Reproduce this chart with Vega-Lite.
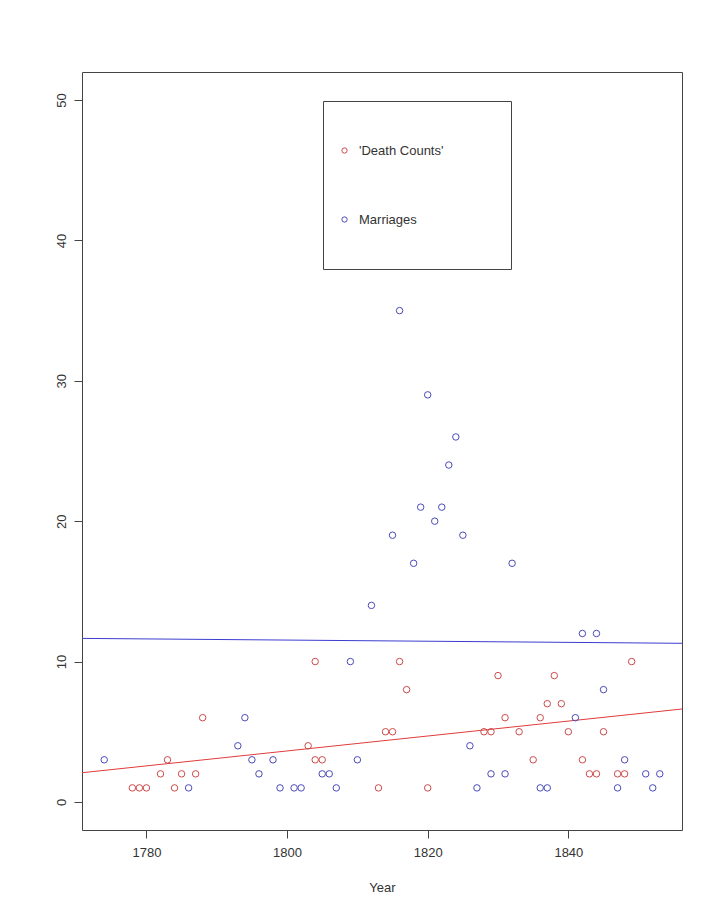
{
  "$schema": "https://vega.github.io/schema/vega-lite/v6.json",
  "autosize": {"type": "none"},
  "width": 600,
  "height": 758,
  "padding": {"left": 82, "top": 72, "right": 21, "bottom": 81},
  "background": "white",
  "datasets": {
    "pts": [
      {"year": 1774, "count": 3, "series": "Marriages"},
      {"year": 1778, "count": 1, "series": "'Death Counts'"},
      {"year": 1779, "count": 1, "series": "'Death Counts'"},
      {"year": 1780, "count": 1, "series": "'Death Counts'"},
      {"year": 1782, "count": 2, "series": "'Death Counts'"},
      {"year": 1783, "count": 3, "series": "'Death Counts'"},
      {"year": 1784, "count": 1, "series": "'Death Counts'"},
      {"year": 1785, "count": 2, "series": "'Death Counts'"},
      {"year": 1786, "count": 1, "series": "Marriages"},
      {"year": 1787, "count": 2, "series": "'Death Counts'"},
      {"year": 1788, "count": 6, "series": "'Death Counts'"},
      {"year": 1793, "count": 4, "series": "Marriages"},
      {"year": 1794, "count": 6, "series": "Marriages"},
      {"year": 1795, "count": 3, "series": "Marriages"},
      {"year": 1796, "count": 2, "series": "Marriages"},
      {"year": 1798, "count": 3, "series": "Marriages"},
      {"year": 1799, "count": 1, "series": "Marriages"},
      {"year": 1801, "count": 1, "series": "Marriages"},
      {"year": 1802, "count": 1, "series": "Marriages"},
      {"year": 1803, "count": 4, "series": "'Death Counts'"},
      {"year": 1804, "count": 10, "series": "'Death Counts'"},
      {"year": 1804, "count": 3, "series": "'Death Counts'"},
      {"year": 1805, "count": 3, "series": "'Death Counts'"},
      {"year": 1805, "count": 2, "series": "Marriages"},
      {"year": 1806, "count": 2, "series": "Marriages"},
      {"year": 1807, "count": 1, "series": "Marriages"},
      {"year": 1809, "count": 10, "series": "Marriages"},
      {"year": 1810, "count": 3, "series": "Marriages"},
      {"year": 1812, "count": 14, "series": "Marriages"},
      {"year": 1813, "count": 1, "series": "'Death Counts'"},
      {"year": 1814, "count": 5, "series": "'Death Counts'"},
      {"year": 1815, "count": 5, "series": "'Death Counts'"},
      {"year": 1815, "count": 19, "series": "Marriages"},
      {"year": 1816, "count": 35, "series": "Marriages"},
      {"year": 1816, "count": 10, "series": "'Death Counts'"},
      {"year": 1817, "count": 8, "series": "'Death Counts'"},
      {"year": 1818, "count": 17, "series": "Marriages"},
      {"year": 1819, "count": 21, "series": "Marriages"},
      {"year": 1820, "count": 29, "series": "Marriages"},
      {"year": 1820, "count": 1, "series": "'Death Counts'"},
      {"year": 1821, "count": 20, "series": "Marriages"},
      {"year": 1822, "count": 21, "series": "Marriages"},
      {"year": 1823, "count": 24, "series": "Marriages"},
      {"year": 1824, "count": 26, "series": "Marriages"},
      {"year": 1825, "count": 19, "series": "Marriages"},
      {"year": 1826, "count": 4, "series": "Marriages"},
      {"year": 1827, "count": 1, "series": "Marriages"},
      {"year": 1828, "count": 5, "series": "'Death Counts'"},
      {"year": 1829, "count": 5, "series": "'Death Counts'"},
      {"year": 1829, "count": 2, "series": "Marriages"},
      {"year": 1830, "count": 9, "series": "'Death Counts'"},
      {"year": 1831, "count": 6, "series": "'Death Counts'"},
      {"year": 1831, "count": 2, "series": "Marriages"},
      {"year": 1832, "count": 17, "series": "Marriages"},
      {"year": 1833, "count": 5, "series": "'Death Counts'"},
      {"year": 1835, "count": 3, "series": "'Death Counts'"},
      {"year": 1836, "count": 6, "series": "'Death Counts'"},
      {"year": 1836, "count": 1, "series": "Marriages"},
      {"year": 1837, "count": 1, "series": "Marriages"},
      {"year": 1837, "count": 7, "series": "'Death Counts'"},
      {"year": 1838, "count": 9, "series": "'Death Counts'"},
      {"year": 1839, "count": 7, "series": "'Death Counts'"},
      {"year": 1840, "count": 5, "series": "'Death Counts'"},
      {"year": 1841, "count": 6, "series": "Marriages"},
      {"year": 1842, "count": 12, "series": "Marriages"},
      {"year": 1842, "count": 3, "series": "'Death Counts'"},
      {"year": 1843, "count": 2, "series": "'Death Counts'"},
      {"year": 1844, "count": 2, "series": "'Death Counts'"},
      {"year": 1844, "count": 12, "series": "Marriages"},
      {"year": 1845, "count": 5, "series": "'Death Counts'"},
      {"year": 1845, "count": 8, "series": "Marriages"},
      {"year": 1847, "count": 2, "series": "'Death Counts'"},
      {"year": 1847, "count": 1, "series": "Marriages"},
      {"year": 1848, "count": 2, "series": "'Death Counts'"},
      {"year": 1848, "count": 3, "series": "Marriages"},
      {"year": 1849, "count": 10, "series": "'Death Counts'"},
      {"year": 1851, "count": 2, "series": "Marriages"},
      {"year": 1852, "count": 1, "series": "Marriages"},
      {"year": 1853, "count": 2, "series": "Marriages"}
    ],
    "fits": [
      {"year": 1770.84, "count": 2.08, "fit": "deaths"},
      {"year": 1856.16, "count": 6.62, "fit": "deaths"},
      {"year": 1770.84, "count": 11.65, "fit": "marriages"},
      {"year": 1856.16, "count": 11.3, "fit": "marriages"}
    ]
  },
  "layer": [
    {
      "data": {"name": "fits"},
      "mark": {"type": "line", "strokeWidth": 1, "clip": true},
      "encoding": {
        "x": {"field": "year", "type": "quantitative", "scale": {"domain": [1770.84, 1856.16], "nice": false, "zero": false}},
        "y": {"field": "count", "type": "quantitative", "scale": {"domain": [-2, 52], "nice": false, "zero": false}},
        "detail": {"field": "fit"},
        "stroke": {"field": "fit", "type": "nominal", "scale": {"domain": ["deaths", "marriages"], "range": ["#e03c3c", "#3c3cd0"]}, "legend": null}
      }
    },
    {
      "data": {"name": "pts"},
      "mark": {"type": "point", "filled": false, "size": 42, "strokeWidth": 1, "opacity": 1},
      "encoding": {
        "x": {"field": "year", "type": "quantitative", "scale": {"domain": [1770.84, 1856.16], "nice": false, "zero": false},
          "axis": {"values": [1780, 1800, 1820, 1840], "format": "d", "title": "Year", "grid": false, "domain": false, "tickSize": 8, "labelPadding": 8, "titlePadding": 22, "labelFlush": false}},
        "y": {"field": "count", "type": "quantitative", "scale": {"domain": [-2, 52], "nice": false, "zero": false},
          "axis": {"values": [0, 10, 20, 30, 40, 50], "title": null, "grid": false, "domain": false, "tickSize": 8, "labelPadding": 6, "labelAngle": 270, "labelAlign": "center", "labelBaseline": "bottom", "labelFlush": false}},
        "color": {"field": "series", "type": "nominal", "scale": {"domain": ["'Death Counts'", "Marriages"], "range": ["#cc4a4a", "#4a4ab8"]},
          "legend": {"title": "\u00a0", "titleOrient": "right", "titlePadding": 53, "titleFontSize": 13, "orient": "none", "legendX": 241, "legendY": 29, "padding": 15, "clipHeight": 69, "rowPadding": 0, "symbolType": "circle", "symbolSize": 28, "symbolStrokeWidth": 1, "labelOffset": 8, "strokeColor": "#444", "fillColor": "white", "labelFontSize": 13, "labelFont": "Liberation Sans", "labelColor": "#333",
            "encode": {
              "symbols": {"update": {"y": {"signal": "datum.index === 0 ? 48 : 24"}}},
              "labels": {"update": {"y": {"signal": "datum.index === 0 ? 48 : 24"}}}
            }}}
      }
    }
  ],
  "resolve": {"legend": {"color": "independent", "stroke": "independent"}},
  "config": {
    "view": {"stroke": "#444", "strokeWidth": 1},
    "axis": {"labelFont": "Liberation Sans", "titleFont": "Liberation Sans", "labelFontSize": 13, "titleFontSize": 13, "titleFontWeight": "normal", "labelColor": "#333", "titleColor": "#333", "tickColor": "#444", "tickWidth": 1}
  }
}
